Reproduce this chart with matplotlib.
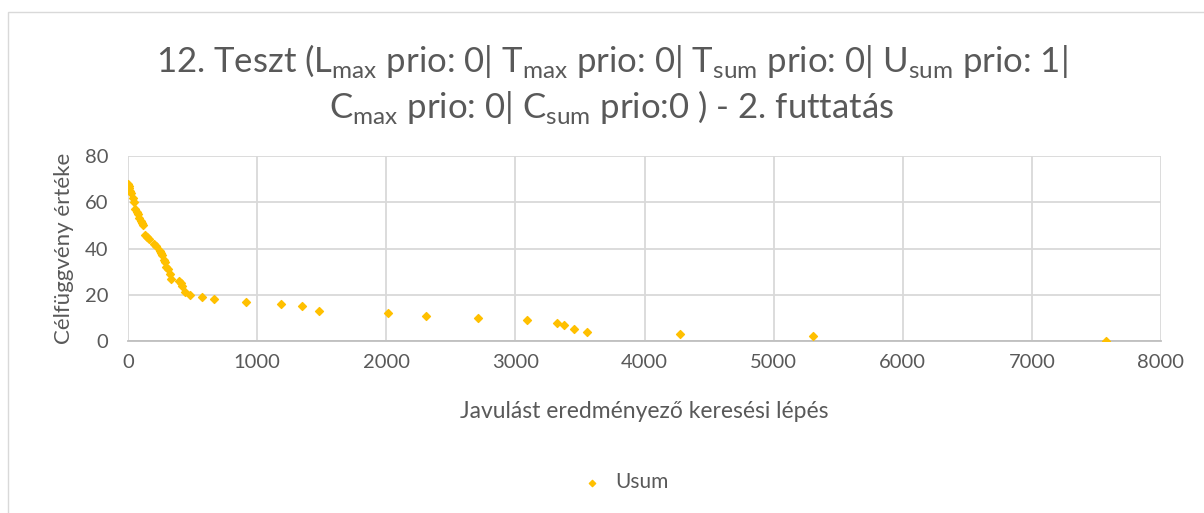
import matplotlib
matplotlib.use('Agg')
from matplotlib import pyplot as plt
from matplotlib.patches import Rectangle

plt.rcParams['font.family'] = ['Lato', 'DejaVu Sans']
plt.rcParams['mathtext.fontset'] = 'custom'
plt.rcParams['mathtext.rm'] = 'Lato'

# lépésszám és célfüggvény érték (Usum)
steps = [0, 4, 8, 14, 22, 35, 45, 58, 68, 76, 89, 100, 107, 120, 128, 145, 160,
         205, 215, 244, 252, 262, 275, 285, 293, 306, 324, 330, 392, 412, 422,
         440, 483, 575, 665, 916, 1187, 1344, 1483, 2012, 2304, 2710, 3092,
         3325, 3379, 3451, 3554, 4272, 5305, 7572]
usum = [68, 67, 66, 65, 64, 62, 60, 57, 56, 55, 53, 52, 51, 50, 46, 45, 44,
        42, 41, 39, 38, 37, 35, 34, 32, 31, 29, 27, 26, 25, 24,
        21, 20, 19, 18, 17, 16, 15, 13, 12, 11, 10, 9,
        8, 7, 5, 4, 3, 2, 0]
xticks = [0, 1000, 2000, 3000, 4000, 5000, 6000, 7000, 8000]
yticks = [0, 20, 40, 60, 80]

gray = '#595959'
fig = plt.figure(figsize=(12.04, 5.13), dpi=100)
fig.patches.append(Rectangle((8 / 1204, -0.1), 1.2, 1 - 12 / 513 + 0.1,
                             transform=fig.transFigure, fill=False,
                             edgecolor='#D9D9D9', linewidth=1))
ax = fig.add_axes([128 / 1204, 1 - 341 / 513, (1161 - 128) / 1204, (341 - 156) / 513])

ax.scatter(steps, usum, marker='D', s=16, color='#FFC000', label='Usum', zorder=3)
ax.set_xlim(0, 8000)
ax.set_ylim(0, 80)
ax.set_xticks(xticks)
ax.set_yticks(yticks)
ax.grid(True, color='#D9D9D9', linewidth=1.3)
ax.set_axisbelow(True)
for s in ['top', 'right', 'left']:
    ax.spines[s].set_visible(False)
ax.spines['bottom'].set_color('#BFBFBF')
ax.spines['bottom'].set_linewidth(1.3)
ax.tick_params(length=0, labelsize=14.5, labelcolor=gray)
ax.tick_params(axis='x', pad=9)
ax.tick_params(axis='y', pad=14)

ax.set_xlabel('Javulást eredményező keresési lépés', fontsize=16.5, color=gray, labelpad=22)
ax.set_ylabel('Célfüggvény értéke', fontsize=16, color=gray, labelpad=8)

title = ('12. Teszt (L$_\\mathrm{max}$ prio: 0| T$_\\mathrm{max}$ prio: 0| '
         'T$_\\mathrm{sum}$ prio: 0| U$_\\mathrm{sum}$ prio: 1|\n'
         'C$_\\mathrm{max}$ prio: 0| C$_\\mathrm{sum}$ prio:0 ) - 2. futtatás')
fig.text(0.508, 1 - 84 / 513, title, ha='center', va='center', fontsize=25,
         color=gray, linespacing=1.3)

fig.legend(loc='center', bbox_to_anchor=(0.515, 1 - 482 / 513), frameon=False,
           fontsize=15, labelcolor=gray, handletextpad=0.1, markerscale=0.8)

fig.savefig('out.png', dpi=100)
